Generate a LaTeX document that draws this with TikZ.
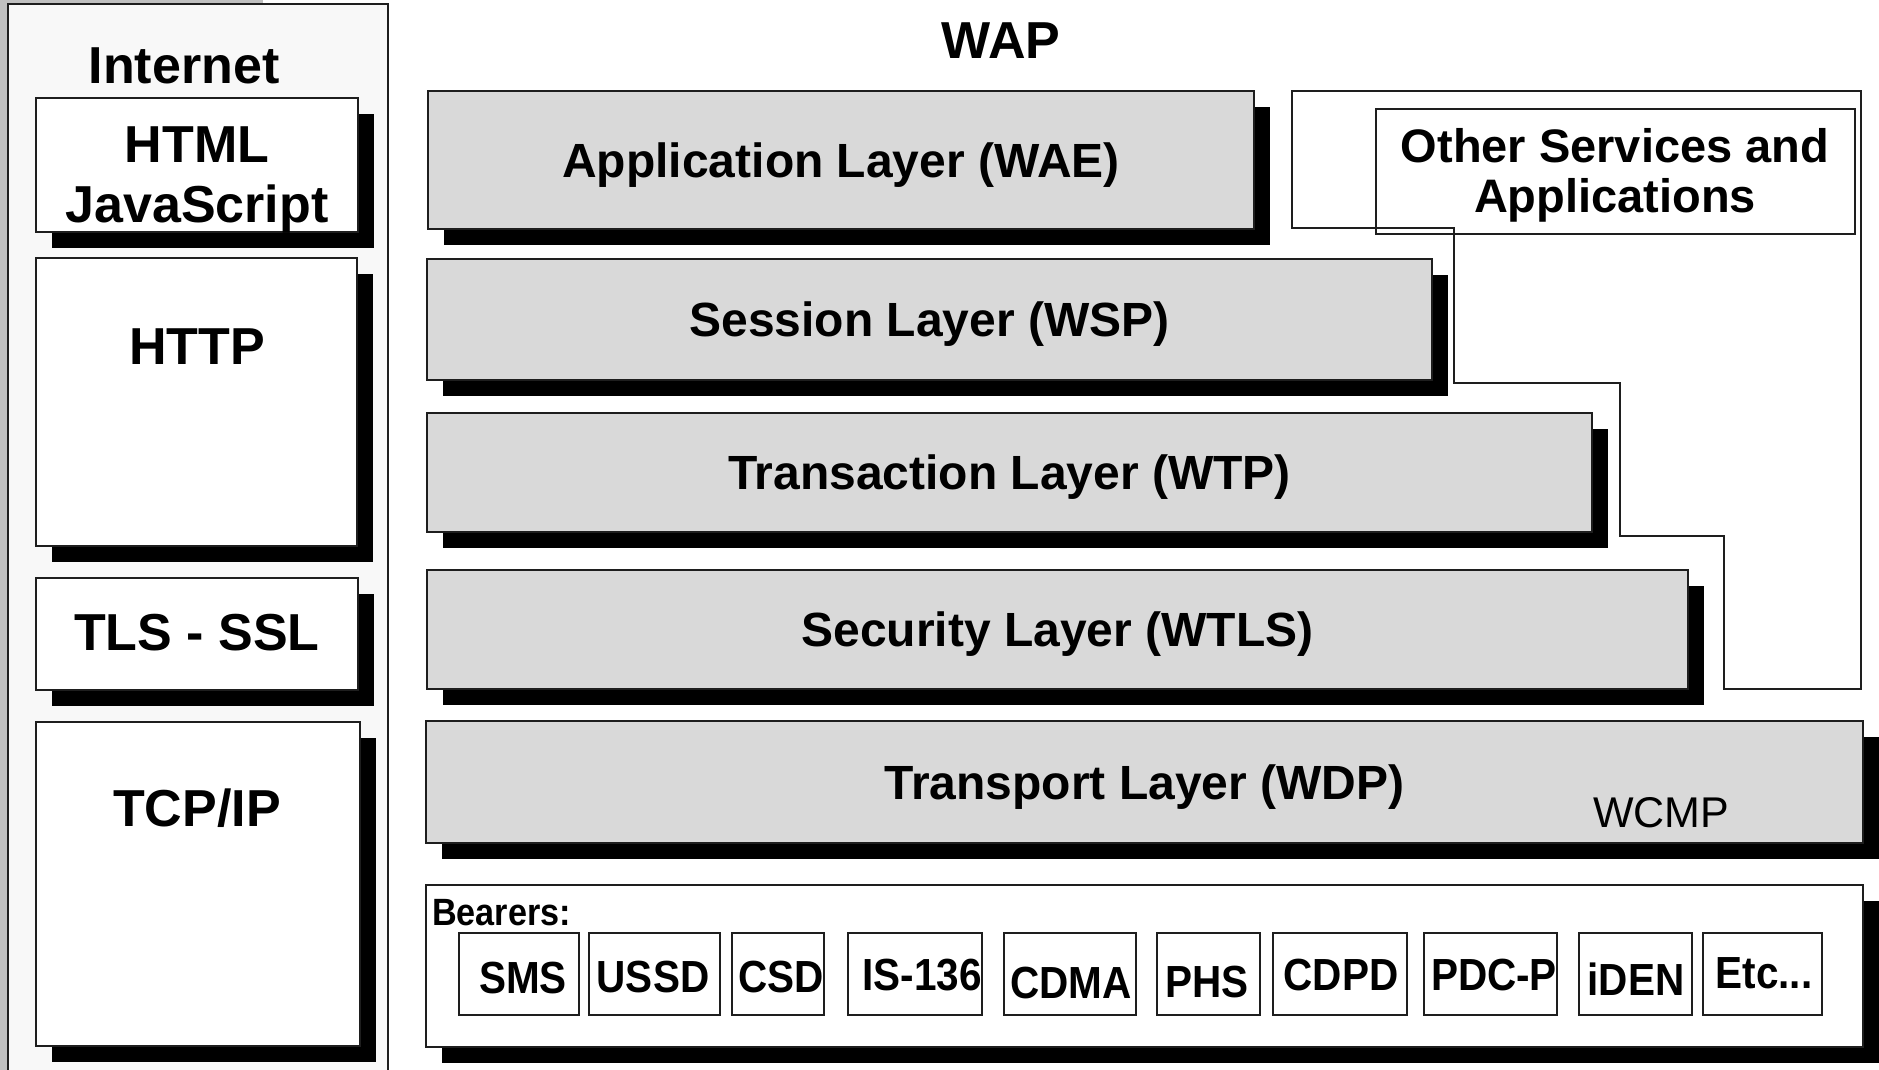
\documentclass[tikz,border=0pt]{standalone}
\usepackage{fontspec}
\setmainfont{Liberation Sans}
\newfontfamily\narrowsans[FakeStretch=0.9]{Liberation Sans}
\usetikzlibrary{fit}
\definecolor{layergray}{HTML}{D9D9D9}
\definecolor{panelgray}{HTML}{F8F8F8}
\definecolor{stripgray}{HTML}{C0C0C0}
\definecolor{edge}{HTML}{1E1E1E}
\tikzset{
  layerbox/.style={draw=edge, line width=2pt, fill=layergray, inner sep=0pt},
  layertext/.style={font=\fontsize{48}{56}\selectfont\bfseries, inner sep=0pt,
    text height=34pt, text depth=0pt, anchor=center},
  whitebox/.style={draw=edge, line width=2pt, fill=white, inner sep=0pt},
  bearerbox/.style={draw=edge, line width=1.6pt, fill=white, inner sep=0pt},
  bigtext/.style={font=\fontsize{52}{60}\selectfont\bfseries, inner sep=0pt, anchor=base},
  othertext/.style={font=\fontsize{47}{54}\selectfont\bfseries, inner sep=0pt, anchor=base},
  bearertext/.style={font=\narrowsans\fontsize{45}{50}\selectfont\bfseries, inner sep=0pt, anchor=base},
  bearerhead/.style={font=\narrowsans\fontsize{38}{44}\selectfont\bfseries, inner sep=0pt, anchor=base west},
  smalltext/.style={font=\fontsize{43}{50}\selectfont, inner sep=0pt, anchor=base west},
}
\newcommand\shadowrect[4]{\fill[black] ({#1+16},{#2+16}) rectangle ({#3+16},{#4+16});}
\newcommand\bearerunit[6]{%
  \node[bearerbox, fit={(#2,933)(#3,1015)}] (#1) {};
  \node[bearertext] at (#4,#5) {#6};
}
\begin{document}
\begin{tikzpicture}[x=1pt,y=-1pt]
\useasboundingbox (0,0) rectangle (1879,1070);
% left strip and Internet panel
\fill[stripgray] (0,0) rectangle (8,1070);
\fill[stripgray] (0,0) rectangle (263,3);
\node[draw=edge, line width=2pt, fill=panelgray, inner sep=0pt, fit={(8,4)(388,1085)}] (internet) {};
\node[bigtext] (internetlabel) at (184,84) {Internet};

\shadowrect{36}{98}{358}{232}
\node[whitebox, fit={(36,98)(358,232)}] (html) {};
\node[bigtext] at (197,163) {HTML};
\node[bigtext] at (197,222) {JavaScript};

\shadowrect{36}{258}{357}{546}
\node[whitebox, fit={(36,258)(357,546)}] (http) {};
\node[bigtext] at (197,364) {HTTP};

\shadowrect{36}{578}{358}{690}
\node[whitebox, fit={(36,578)(358,690)}] (tls) {};
\node[bigtext] at (197,650) {TLS - SSL};

\shadowrect{36}{722}{360}{1046}
\node[whitebox, fit={(36,722)(360,1046)}] (tcpip) {};
\node[bigtext] at (197,826) {TCP/IP};

% WAP
\node[bigtext] (wap) at (1001,59) {WAP};

\shadowrect{428}{91}{1254}{229}
\node[layerbox, fit={(428,91)(1254,229)}] (wae) {};
\node[layertext] at (wae.center) {Application Layer (WAE)};

\shadowrect{427}{259}{1432}{380}
\node[layerbox, fit={(427,259)(1432,380)}] (wsp) {};
\node[layertext] at (wsp.center) {Session Layer (WSP)};

\shadowrect{427}{413}{1592}{532}
\node[layerbox, fit={(427,413)(1592,532)}] (wtp) {};
\node[layertext] at (wtp.center) {Transaction Layer (WTP)};

\shadowrect{427}{570}{1688}{689}
\node[layerbox, fit={(427,570)(1688,689)}] (wtls) {};
\node[layertext] at (wtls.center) {Security Layer (WTLS)};

\shadowrect{426}{721}{1863}{843}
\node[layerbox, fit={(426,721)(1863,843)}] (wdp) {};
\node[layertext] at (wdp.center) {Transport Layer (WDP)};
\node[smalltext] (wcmp) at (1593,827) {WCMP};

% Other services outline
\draw[edge, line width=2pt] (1292,91) -- (1861,91) -- (1861,689) -- (1724,689) -- (1724,536)
  -- (1620,536) -- (1620,383) -- (1454,383) -- (1454,228) -- (1292,228) -- cycle;
\node[draw=edge, line width=1.2pt, inner sep=0pt, fit={(1376,109)(1855,234)}] (other) {};
\node[othertext] at (1615,162) {Other Services and};
\node[othertext] at (1615,212) {Applications};

% Bearers
\shadowrect{426}{885}{1863}{1047}
\node[whitebox, fit={(426,885)(1863,1047)}] (bearers) {};
\node[bearerhead] (bearerslabel) at (432,925) {Bearers:};
\bearerunit{sms}{459}{579}{523}{993}{SMS}
\bearerunit{ussd}{589}{720}{653}{992}{USSD}
\bearerunit{csd}{732}{824}{781}{992}{CSD}
\bearerunit{is136}{848}{982}{922}{990}{IS-136}
\bearerunit{cdma}{1004}{1136}{1071}{998}{CDMA}
\bearerunit{phs}{1157}{1260}{1207}{997}{PHS}
\bearerunit{cdpd}{1273}{1407}{1341}{990}{CDPD}
\bearerunit{pdcp}{1424}{1557}{1494}{990}{PDC-P}
\bearerunit{iden}{1579}{1692}{1636}{995}{iDEN}
\bearerunit{etc}{1703}{1822}{1764}{988}{Etc...}
\end{tikzpicture}
\end{document}
